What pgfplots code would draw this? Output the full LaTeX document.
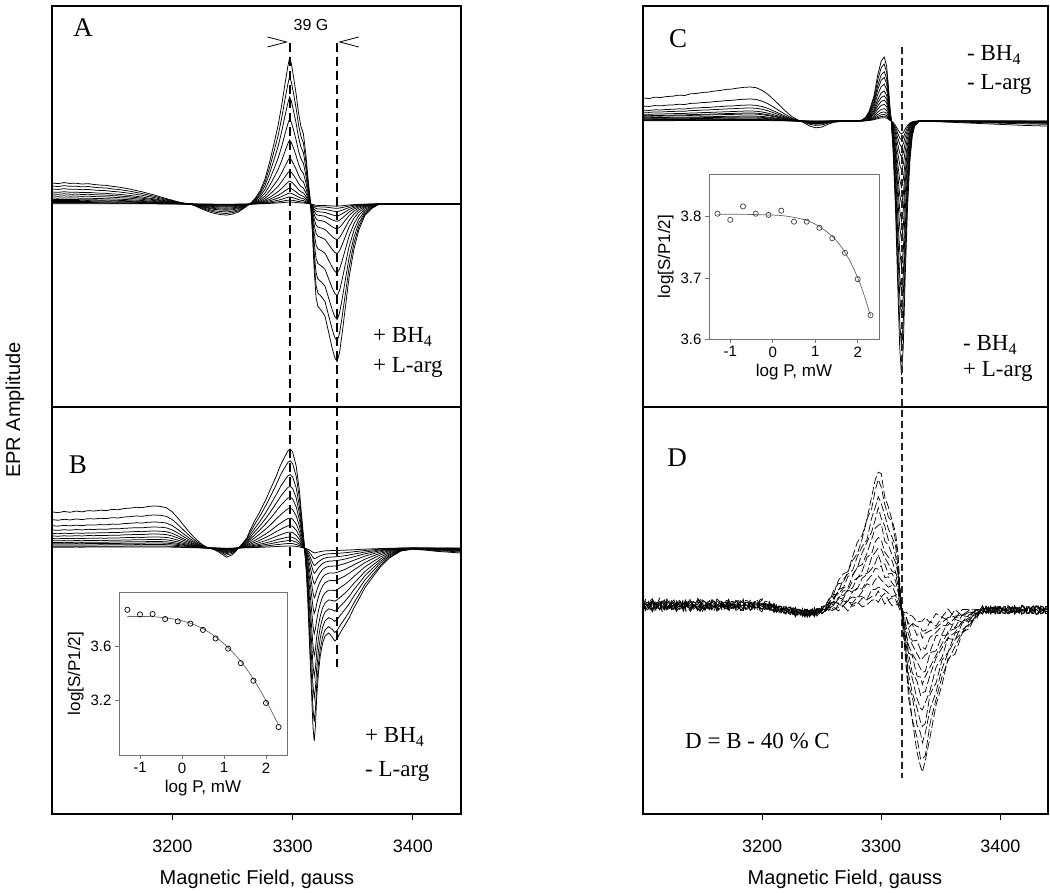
\documentclass[border=0pt]{standalone}
\usepackage{pgfplots}
\pgfplotsset{compat=1.18}
\usepackage{pgfplotstable}
\usepackage{fontspec}
\setmainfont{Liberation Sans}
\newfontfamily\seriffont{Liberation Serif}

% Panel A: M = main signal shape (peak=1), L = low-field feature
\pgfplotstableread{
x M L
3100 0 1.00
3105 0 0.97
3110 0 1.02
3115 0 0.98
3120 0 0.99
3125 0 0.95
3130 0 0.97
3135 0 0.93
3140 0 0.90
3145 0 0.89
3150 0 0.84
3155 0 0.81
3160 0 0.76
3165 0 0.71
3170 0 0.64
3175 0 0.58
3180 0 0.50
3185 0 0.43
3190 0 0.34
3195 0 0.26
3200 0 0.18
3205 0 0.10
3210 0 0.04
3215 0 0.00
3220 0 -0.12
3225 0 -0.25
3230 0 -0.36
3235 0 -0.45
3240 0 -0.50
3245 0 -0.53
3250 0 -0.48
3255 0 -0.38
3260 0.005 -0.22
3265 0.015 -0.08
3269 0.04 0
3273 0.09 0
3277 0.17 0
3281 0.29 0
3285 0.43 0
3288 0.54 0
3291 0.68 0
3294 0.84 0
3296 0.94 0
3297.5 1.00 0
3299 0.96 0
3301 0.86 0
3303 0.75 0
3305 0.62 0
3307 0.53 0
3309 0.48 0
3311 0.34 0
3313 0.16 0
3315 0.00 0
3316.5 -0.20 0
3318 -0.46 0
3319.5 -0.64 0
3321 -0.70 0
3324 -0.73 0
3327 -0.77 0
3330 -0.88 0
3333 -0.99 0
3335 -1.05 0
3337 -1.08 0
3339 -1.02 0
3341 -0.90 0
3344 -0.70 0
3347 -0.50 0
3351 -0.31 0
3355 -0.18 0
3360 -0.08 0
3366 -0.03 0
3372 0 0
3380 0 0
3390 0 0
3400 0 0
3420 0 0
3440 0 0
}\tabA

% Panel B: B1 = largest trace (px), B2 = small-trace shape (peak=1), L = low-field feature
\pgfplotstableread{
x B1 B2 L
3100 0 0 0.86
3105 0 0 0.84
3110 0 0 0.87
3115 0 0 0.85
3120 0 0 0.88
3125 0 0 0.86
3130 0 0 0.89
3135 0 0 0.88
3140 0 0 0.90
3145 0 0 0.89
3150 0 0 0.92
3155 0 0 0.91
3160 0 0 0.94
3165 0 0 0.95
3170 0 0 0.97
3175 0 0 0.96
3180 0 0 0.99
3185 0 0 1.00
3190 0 0 0.99
3195 0 0 0.96
3200 0 0 0.86
3205 0 0 0.70
3210 0 0 0.52
3215 0 0 0.35
3220 0 0 0.20
3225 0 0 0.08
3230 0 0 0.00
3235 0 0 -0.04
3240 0 0 -0.12
3245 0 0 -0.22
3250 0 0 -0.16
3254 0 0.014 -0.04
3258 4 0.056 0
3262 10 0.11 0
3264 16 0.14 0
3268 26 0.22 0
3272.6 36 0.33 0
3278 49 0.47 0
3282 60 0.58 0
3286.5 72 0.74 0
3290 83 0.83 0
3293.4 91 0.93 0
3296 97 0.99 0
3298 99 1.00 0
3300 96 0.97 0
3303 82 0.78 0
3305.8 56 0.50 0
3308.5 19 0.14 0
3310 0 -0.06 0
3311.5 -25 -0.33 0
3312.7 -54 -0.61 0
3314 -95 -1.00 0
3315.5 -138 -1.56 0
3317 -180 -2.17 0
3318 -193 -2.44 0
3319 -178 -2.36 0
3320 -150 -2.22 0
3321.5 -125 -2.00 0
3323 -108 -1.81 0
3325 -95 -1.58 0
3327 -88 -1.44 0
3330 -85 -1.33 0
3333 -89 -1.28 0
3335 -93 -1.25 0
3337 -91 -1.22 0
3339 -86 -1.19 0
3343 -78 -1.11 0
3347 -70 -0.99 0
3351 -60 -0.86 0
3355.6 -50 -0.72 0
3360 -40 -0.58 0
3366.6 -29 -0.42 0
3373 -19 -0.27 0
3380.5 -10 -0.14 0
3390 -3 -0.04 0
3400 0 0 -0.03
3410 0 0 -0.05
3420 0 0 -0.08
3430 0 0 -0.10
3440 0 0 -0.12
}\tabB

% Panel C: S = sharp signal (trough=-1), L = low-field feature
\pgfplotstableread{
x S L
3100 0 0.68
3105 0 0.66
3110 0 0.70
3115 0 0.69
3120 0 0.72
3125 0 0.73
3130 0 0.76
3135 0 0.75
3140 0 0.80
3145 0 0.81
3150 0 0.84
3155 0 0.85
3160 0 0.88
3165 0 0.90
3170 0 0.93
3175 0 0.94
3180 0 0.97
3185 0 0.99
3190 0 1.00
3195 0 0.98
3200 0 0.90
3205 0 0.78
3210 0 0.62
3215 0 0.45
3220 0 0.28
3225 0 0.13
3230 0 0.03
3235 0 -0.05
3240 0 -0.15
3245 0 -0.20
3250 0 -0.18
3255 0 -0.10
3260 0 -0.04
3270 0 0
3280 0 0
3284 0.004 0
3287 0.015 0
3290 0.04 0
3294 0.10 0
3297 0.18 0
3300 0.236 0
3302.5 0.252 0
3304.5 0.217 0
3306 0.138 0
3307.5 0.04 0
3308.5 0 0
3310 -0.12 0
3312 -0.35 0
3314 -0.67 0
3315.5 -0.89 0
3317 -1.00 0
3318.5 -0.89 0
3320 -0.63 0
3322 -0.35 0
3324 -0.16 0
3326 -0.06 0
3328 -0.02 0
3332 0 0
3340 0 -0.01
3360 0 -0.04
3380 0 -0.07
3400 0 -0.10
3420 0 -0.13
3440 0 -0.15
}\tabC

% Panel D: M = difference signal (peak=1), E = low-field feature, N1 N2 = noise
\pgfplotstableread{
x M E N1 N2
3100 0 1.0 0.3 -0.6
3102 0 1.0 -0.5 0.8
3104 0 1.0 -0.8 0.4
3106 0 1.0 0.7 -0.2
3108 0 1.0 0.6 0.9
3110 0 1.0 -0.3 -0.7
3112 0 1.0 0.1 -0.3
3114 0 1.0 0.9 0.5
3116 0 1.0 -0.4 -0.9
3118 0 1.0 -0.9 0.1
3120 0 1.0 0.9 0.2
3122 0 1.0 0.2 -0.6
3124 0 1.0 -0.2 0.7
3126 0 1.0 0.6 0.3
3128 0 1.0 -0.7 -0.5
3130 0 1.0 0.4 -0.9
3132 0 1.0 0.5 0.1
3134 0 1.0 -0.6 0.8
3136 0 1.0 0.8 -0.8
3138 0 1.0 -0.1 0.4
3140 0 1.0 -0.9 0.6
3142 0 1.0 0.5 -0.4
3144 0 1.0 0.2 -0.2
3146 0 1.0 -0.7 0.9
3148 0 1.0 0.4 0.9
3150 0 1.0 0.9 -0.5
3152 0 1.0 -0.3 -0.7
3154 0 1.0 0.1 0.3
3156 0 1.0 -0.6 0.3
3158 0 1.0 0.8 -0.8
3160 0 1.0 0.7 -0.4
3162 0 1.0 -0.8 0.6
3164 0 1.0 0.0 0.8
3166 0 1.0 0.6 -0.3
3168 0 1.0 -0.5 -0.1
3170 0 1.0 0.3 0.7
3172 0 1.0 0.9 -0.9
3174 0 1.0 -0.4 0.2
3176 0 1.0 -0.1 0.5
3178 0 1.0 0.7 -0.6
3180 0 1.0 0.6 0.0
3182 0 1.0 -0.9 0.4
3184 0 1.0 -0.8 0.7
3186 0 1.0 0.4 -0.7
3188 0 1.0 0.3 -0.6
3190 0 1.0 -0.2 0.9
3192 0 1.0 -0.4 0.2
3194 0 1.0 0.8 -0.2
3196 0 1.0 0.8 -0.3
3198 0 1.0 -0.6 0.5
3200 0 0.95 -0.7 0.9
3202 0 0.93 0.5 -0.4
3204 0 0.9 0.1 -0.8
3206 0 0.75 -0.5 0.6
3208 0 0.6 0.5 0.4
3210 0 0.45 0.8 -0.5
3212 0 0.3 -0.9 -0.2
3214 0 0.2 0.2 0.7
3216 0 0.1 0.4 0.6
3218 0 0.05 -0.6 -0.3
3220 0 0 -0.2 -0.9
3222 0 -0.1 0.5 0.4
3224 0 -0.2 0.7 0.3
3226 0 -0.3 -0.4 -0.6
3228 0 -0.4 -0.6 0.8
3230 0 -0.5 0.6 -0.2
3232 0 -0.55 0.2 -0.5
3234 0 -0.6 -0.8 0.3
3236 0 -0.6 0.9 0.1
3238 0 -0.6 -0.2 0.8
3240 0 -0.6 -0.3 -0.7
3242 0 -0.55 0.6 0.2
3244 0 -0.5 -0.8 0.5
3246 0 -0.4 0.3 -0.8
3248 0 -0.3 0.6 -0.1
3250 0.01 -0.2 -0.5 0.6
3252 0.02 -0.1 -0.1 0.8
3256 0.07 0 0.4 -0.6
3260 0.13 0 -0.7 0.2
3264 0.19 0 0.3 0.9
3268 0.24 0 0.8 -0.4
3272 0.30 0 -0.5 -0.8
3276 0.37 0 0.1 0.6
3280 0.46 0 0.9 0.0
3284 0.55 0 -0.3 -0.5
3288 0.66 0 -0.8 0.7
3292 0.80 0 0.5 -0.2
3295 0.92 0 0.2 0.4
3297.5 1.00 0 -0.4 -0.3
3300 0.95 0 0.6 0.5
3303 0.82 0 -0.2 -0.6
3306 0.72 0 0.4 0.3
3309 0.66 0 -0.6 0.1
3312 0.55 0 0.3 -0.4
3314 0.40 0 0.1 0.5
3315.5 0.20 0 -0.3 -0.2
3317 0 0 0.2 0.3
3319 -0.20 0 -0.5 0.6
3321 -0.42 0 0.7 -0.3
3323 -0.64 0 -0.2 0.8
3326 -0.80 0 0.9 -0.6
3330 -1.00 0 -0.6 0.2
3333 -1.12 0 0.4 -0.7
3334.5 -1.16 0 -0.1 0.4
3337 -1.10 0 0.8 0.1
3341 -0.88 0 -0.7 -0.5
3346 -0.70 0 0.3 0.9
3351 -0.52 0 -0.4 -0.2
3356 -0.38 0 0.9 0.5
3362 -0.28 0 -0.8 -0.9
3368 -0.18 0 0.2 0.6
3374 -0.12 0 0.6 -0.3
3380 -0.05 0 -0.3 0.8
3385 0 0 0.7 -0.6
3388 0 0 -0.9 0.2
3390 0 0 0.2 0.7
3392 0 0 0.4 -0.8
3394 0 0 -0.7 -0.1
3396 0 0 -0.2 0.9
3398 0 0 0.6 -0.5
3400 0 0 0.8 -0.1
3402 0 0 -0.3 0.6
3404 0 0 -0.6 0.5
3406 0 0 0.5 -0.9
3408 0 0 0.1 -0.7
3410 0 0 -0.8 0.2
3412 0 0 0.9 0.3
3414 0 0 0.2 -0.5
3416 0 0 -0.5 -0.4
3418 0 0 0.6 0.8
3420 0 0 0.3 0.7
3422 0 0 -0.4 -0.6
3424 0 0 -0.8 -0.2
3426 0 0 0.7 0.1
3428 0 0 0.6 0.6
3430 0 0 -0.5 -0.8
3432 0 0 -0.1 -0.9
3434 0 0 0.8 0.4
3436 0 0 0.5 0.4
3438 0 0 -0.6 -0.5
3440 0 0 -0.7 -0.3
}\tabD

\pgfplotstableread{
lp s
-1.3 3.869
-1.0 3.835
-0.7 3.838
-0.4 3.801
-0.1 3.784
0.2 3.767
0.5 3.721
0.8 3.658
1.1 3.583
1.4 3.476
1.7 3.347
2.0 3.183
2.3 3.006
}\insBpts
\pgfplotstableread{
lp s
-1.3 3.820
-1.0 3.820
-0.7 3.818
-0.4 3.810
-0.1 3.795
0.2 3.770
0.5 3.730
0.8 3.670
1.1 3.590
1.4 3.490
1.7 3.360
2.0 3.200
2.3 3.020
}\insBfit
\pgfplotstableread{
lp s
-1.3 3.805
-1.0 3.795
-0.7 3.817
-0.4 3.805
-0.1 3.803
0.2 3.810
0.5 3.792
0.8 3.792
1.1 3.782
1.4 3.765
1.7 3.741
2.0 3.698
2.3 3.639
}\insCpts
\pgfplotstableread{
lp s
-1.3 3.804
-0.7 3.804
-0.1 3.803
0.2 3.802
0.5 3.799
0.8 3.794
1.1 3.784
1.4 3.768
1.6 3.752
1.8 3.730
2.0 3.700
2.15 3.672
2.3 3.638
}\insCfit

\pgfplotsset{
  eprax/.style={scale only axis, anchor=south west, xmin=3100, xmax=3440,
    ytick=\empty, axis line style={line width=1.1pt}, clip=false,
    tick pos=left, tick align=outside, major tick length=6pt,
    xtick style={black, line width=0.9pt},
    /pgf/number format/assume math mode=true,
    /pgf/number format/1000 sep={},
    xticklabel style={font=\fontsize{18}{18}\selectfont, yshift=-16pt}},
  inset/.style={scale only axis, anchor=south west, clip=false,
    axis background/.style={fill=white},
    axis line style={black!55, line width=0.8pt},
    tick pos=left, tick align=outside, major tick length=4pt,
    tick style={black!55, line width=0.7pt},
    /pgf/number format/assume math mode=true,
    ticklabel style={font=\fontsize{15}{15}\selectfont},
    label style={font=\fontsize{17}{17}\selectfont},
    xtick={-1,0,1,2}, xmin=-1.5, xmax=2.5,
    xlabel={log P, mW}, ylabel={log[S/P1/2]},
    yticklabel style={/pgf/number format/.cd, fixed, fixed zerofill, precision=1}},
  trace/.style={black, line width=0.75pt},
}

\begin{document}
\begin{tikzpicture}[x=1pt,y=1pt]
\useasboundingbox (0,0) rectangle (1050,892);

% ---------- Panel A ----------
\begin{axis}[eprax, at={(52pt,485pt)}, width=409pt, height=401pt,
  ymin=-203, ymax=198, xtick=\empty]
\foreach \a/\l in {146/21,127/18,107/15,85/12,64/10,46/8,33/6,23/4.5,16/3.5,11/2.5,7/1.5,4/1,2/0.3}{
  \edef\tmp{\noexpand\addplot[trace] table[x=x, y expr={(\a)*\noexpand\thisrow{M}+(\l)*\noexpand\thisrow{L}}] {\noexpand\tabA};}
  \tmp
}
\addplot[black, line width=2pt, dash pattern=on 9pt off 5pt] coordinates {(3297.7,161) (3297.7,-364)};
\addplot[black, line width=2pt, dash pattern=on 9pt off 5pt] coordinates {(3336.7,161) (3336.7,-463)};
\addplot[black, line width=0.8pt] coordinates {(3279.2,167) (3295,162) (3279.2,157)};
\addplot[black, line width=0.8pt] coordinates {(3355,167) (3339.2,162) (3355,157)};
\end{axis}

% ---------- Panel B ----------
\begin{axis}[eprax, at={(52pt,78pt)}, width=409pt, height=407pt,
  ymin=-266, ymax=141, xtick={3200,3300,3400}]
\foreach \a/\b/\l in {1/0/42,0.8/8/33,0.6/14/26,0.45/17/21,0.33/18/17,0.23/17/14,0.15/15/11,0.1/12.5/8.5,0.06/10/6.5,0.03/8/5,0.015/6/3.5,0.005/4/2,0/2/1}{
  \edef\tmp{\noexpand\addplot[trace] table[x=x, y expr={(\a)*\noexpand\thisrow{B1}+(\b)*\noexpand\thisrow{B2}+(\l)*\noexpand\thisrow{L}}] {\noexpand\tabB};}
  \tmp
}
\end{axis}

% ---------- Inset B ----------
\begin{axis}[inset, at={(119pt,137pt)}, width=168pt, height=163pt,
  ymin=2.8, ymax=4.0, ytick={3.2,3.6}]
\addplot[black!60, line width=0.7pt, smooth] table[x=lp, y=s] {\insBfit};
\addplot[only marks, mark=o, mark size=2.6pt, black, mark options={line width=0.7pt, fill=white}] table[x=lp, y=s] {\insBpts};
\end{axis}

% ---------- Panel C ----------
\begin{axis}[eprax, at={(643pt,485pt)}, width=405pt, height=401pt,
  ymin=-286, ymax=115, xtick=\empty]
\foreach \s/\l in {254/34,226/22,196/16,173/13,146/10,119/8,100/7,83/5,66/4,49/3,36/2,26/1.5,19/1,13/0.5}{
  \edef\tmp{\noexpand\addplot[trace] table[x=x, y expr={(\s)*\noexpand\thisrow{S}+(\l)*\noexpand\thisrow{L}}] {\noexpand\tabC};}
  \tmp
}
\addplot[black!85, line width=1.1pt, dash pattern=on 7pt off 4pt] coordinates {(3317.4,74) (3317.4,-657)};
\end{axis}

% ---------- Inset C ----------
\begin{axis}[inset, at={(709pt,553pt)}, width=170pt, height=165pt,
  ymin=3.6, ymax=3.87, ytick={3.6,3.7,3.8}]
\addplot[black!60, line width=0.7pt, smooth] table[x=lp, y=s] {\insCfit};
\addplot[only marks, mark=o, mark size=2.6pt, black!75, mark options={line width=0.7pt, fill=white}] table[x=lp, y=s] {\insCpts};
\end{axis}

% ---------- Panel D ----------
\begin{axis}[eprax, at={(643pt,78pt)}, width=405pt, height=407pt,
  ymin=-204, ymax=203, xtick={3200,3300,3400}]
\foreach \m/\e/\p/\q in {140/7/4/2,130/6.5/-3.5/3,113/6/2/-4,100/5.5/-4/-2,87/5/3.5/3,73/5/-2/4,63/4.5/4/-2.5,53/4/-3.5/-3,43/4/2.5/4,33/3.5/-4/2,23/3/3/-3,17/3/-2/-4,10/2.5/4/2.5}{
  \edef\tmp{\noexpand\addplot[black, line width=0.7pt, dash pattern=on 8pt off 3pt] table[x=x, y expr={(\m)*\noexpand\thisrow{M}+(\e)*\noexpand\thisrow{E}+(\p)*\noexpand\thisrow{N1}+(\q)*\noexpand\thisrow{N2}}] {\noexpand\tabD};}
  \tmp
}
\end{axis}

% ---------- Text ----------
\node[font=\seriffont\fontsize{27}{27}\selectfont] at (83,864) {A};
\node[font=\seriffont\fontsize{27}{27}\selectfont] at (78,427) {B};
\node[font=\seriffont\fontsize{27}{27}\selectfont] at (678,853) {C};
\node[font=\seriffont\fontsize{27}{27}\selectfont] at (677,434) {D};
\node[font=\fontsize{16}{16}\selectfont] at (311,867) {39 G};

\node[anchor=base west, inner sep=0, font=\seriffont\fontsize{23}{23}\selectfont] at (373,549) {+ BH\textsubscript{4}};
\node[anchor=base west, inner sep=0, font=\seriffont\fontsize{23}{23}\selectfont] at (373,519) {+ L-arg};
\node[anchor=base west, inner sep=0, font=\seriffont\fontsize{23}{23}\selectfont] at (365,149) {+ BH\textsubscript{4}};
\node[anchor=base west, inner sep=0, font=\seriffont\fontsize{23}{23}\selectfont] at (365,115) {- L-arg};
\node[anchor=base west, inner sep=0, font=\seriffont\fontsize{23}{23}\selectfont] at (967,831) {- BH\textsubscript{4}};
\node[anchor=base west, inner sep=0, font=\seriffont\fontsize{23}{23}\selectfont] at (967,802) {- L-arg};
\node[anchor=base west, inner sep=0, font=\seriffont\fontsize{23}{23}\selectfont] at (963,541) {- BH\textsubscript{4}};
\node[anchor=base west, inner sep=0, font=\seriffont\fontsize{23}{23}\selectfont] at (963,515) {+ L-arg};
\node[anchor=base west, inner sep=0, font=\seriffont\fontsize{23}{23}\selectfont] at (685,143) {D = B - 40 \% C};

\node[font=\fontsize{20}{20}\selectfont] at (257,13) {Magnetic Field, gauss};
\node[font=\fontsize{20}{20}\selectfont] at (845,13) {Magnetic Field, gauss};
\node[rotate=90, font=\fontsize{20}{20}\selectfont] at (15,482) {EPR Amplitude};
\end{tikzpicture}
\end{document}
